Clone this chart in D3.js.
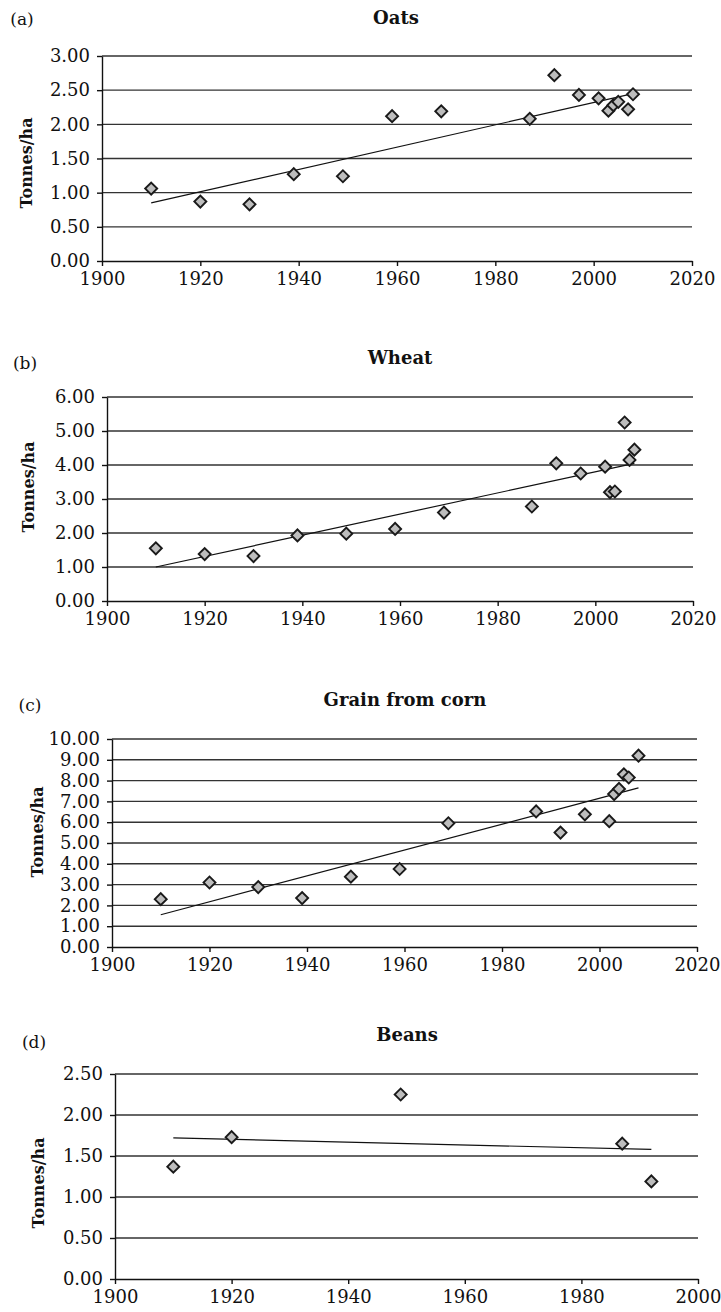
<!DOCTYPE html>
<html>
<head>
<meta charset="utf-8">
<script src="https://cdn.jsdelivr.net/npm/d3@7"></script>
<style>
	body { margin: 0; background: #fff; }
	svg text { font-family: 'DejaVu Serif', serif; fill: #111; }
</style>
</head>
<body>
<script>
// crop yields, tonnes/ha
const oatsYears = [1910, 1920, 1930, 1939, 1949, 1959, 1969, 1987, 1992, 1997, 2001, 2003, 2004, 2005, 2007, 2008];
const oatsYield = [1.06, 0.87, 0.83, 1.27, 1.24, 2.12, 2.19, 2.08, 2.72, 2.43, 2.38, 2.2, 2.28, 2.33, 2.22, 2.44];
const oatsTrend = [[1910, 0.85], [2008, 2.45]];

const wheatYears = [1910, 1920, 1930, 1939, 1949, 1959, 1969, 1987, 1992, 1997, 2002, 2003, 2004, 2006, 2007, 2008];
const wheatYield = [1.55, 1.38, 1.32, 1.93, 1.98, 2.12, 2.6, 2.78, 4.05, 3.75, 3.95, 3.2, 3.22, 5.25, 4.15, 4.45];
const wheatTrend = [[1910, 1.0], [2008, 4.05]];

const cornYears = [1910, 1920, 1930, 1939, 1949, 1959, 1969, 1987, 1992, 1997, 2002, 2003, 2004, 2005, 2006, 2008];
const cornYield = [2.3, 3.1, 2.88, 2.35, 3.38, 3.75, 5.95, 6.52, 5.5, 6.38, 6.05, 7.35, 7.6, 8.3, 8.15, 9.2];
const cornTrend = [[1910, 1.55], [2008, 7.65]];

const beansYears = [1910, 1920, 1949, 1987, 1992];
const beansYield = [1.37, 1.73, 2.25, 1.65, 1.19];
const beansTrend = [[1910, 1.72], [1992, 1.58]];

const titles = ['Oats', 'Wheat', 'Grain from corn', 'Beans'];
const letters = ['(a)', '(b)', '(c)', '(d)'];
const yTicksOats = [0, 0.5, 1, 1.5, 2, 2.5, 3];
const yTicksWheat = [0, 1, 2, 3, 4, 5, 6];
const yTicksCorn = [0, 1, 2, 3, 4, 5, 6, 7, 8, 9, 10];
const yTicksBeans = [0, 0.5, 1, 1.5, 2, 2.5];
const xTicksLong = [1900, 1920, 1940, 1960, 1980, 2000, 2020];
const xTicksShort = [1900, 1920, 1940, 1960, 1980, 2000];

// where each panel sits on the page
const layout = [
	{ left: 102, right: 692, top: 56, bottom: 261, titleX: 396, titleY: 18, letX: 22, letY: 19, labX: 26, labY: 163 },
	{ left: 107, right: 693, top: 397, bottom: 601, titleX: 400, titleY: 358, letX: 25, letY: 363, labX: 28, labY: 487 },
	{ left: 112, right: 697, top: 739, bottom: 947, titleX: 405, titleY: 700, letX: 30, letY: 705, labX: 37, labY: 832 },
	{ left: 115, right: 698, top: 1074, bottom: 1279, titleX: 407, titleY: 1035, letX: 34, letY: 1042, labX: 38, labY: 1183 },
];

const panels = [
	{ years: oatsYears, values: oatsYield, trend: oatsTrend, yTicks: yTicksOats, xTicks: xTicksLong },
	{ years: wheatYears, values: wheatYield, trend: wheatTrend, yTicks: yTicksWheat, xTicks: xTicksLong },
	{ years: cornYears, values: cornYield, trend: cornTrend, yTicks: yTicksCorn, xTicks: xTicksLong },
	{ years: beansYears, values: beansYield, trend: beansTrend, yTicks: yTicksBeans, xTicks: xTicksShort },
];

const svg = d3.select('body').append('svg').attr('width', 721).attr('height', 1312);

const diamond = d3.symbol().type(d3.symbolSquare).size(72);

panels.forEach((p, i) => {
	const L = layout[i];
	const x = d3.scaleLinear().domain(d3.extent(p.xTicks)).range([L.left, L.right]);
	const y = d3.scaleLinear().domain(d3.extent(p.yTicks)).range([L.bottom, L.top]);
	const g = svg.append('g');

	// horizontal gridlines
	g.selectAll('.grid')
		.data(p.yTicks.slice(1))
		.join('line')
		.attr('x1', L.left)
		.attr('x2', L.right)
		.attr('y1', (d) => y(d))
		.attr('y2', (d) => y(d))
		.attr('stroke', '#333')
		.attr('stroke-width', 1.4);

	// axes
	const ya = g.append('g')
		.attr('transform', `translate(${L.left},0)`)
		.call(d3.axisLeft(y).tickValues(p.yTicks).tickSize(5).tickSizeOuter(0).tickPadding(7).tickFormat(d3.format('.2f')));
	const xa = g.append('g')
		.attr('transform', `translate(0,${L.bottom})`)
		.call(d3.axisBottom(x).tickValues(p.xTicks).tickSize(5).tickSizeOuter(0).tickPadding(6).tickFormat(d3.format('d')));
	[ya, xa].forEach((a) => {
		a.selectAll('path, line').attr('stroke', '#111').attr('stroke-width', 1.4);
		a.selectAll('text').style('font-size', '18px').attr('fill', '#111');
	});

	// trend line
	g.append('path')
		.attr('d', d3.line().x((d) => x(d[0])).y((d) => y(d[1]))(p.trend))
		.attr('fill', 'none')
		.attr('stroke', '#111')
		.attr('stroke-width', 1.2);

	// points
	g.selectAll('.pt')
		.data(p.years.map((yr, k) => [yr, p.values[k]]))
		.join('path')
		.attr('d', diamond)
		.attr('transform', (d) => `translate(${x(d[0])},${y(d[1])}) rotate(45)`)
		.attr('fill', '#bdbdbd')
		.attr('stroke', '#1a1a1a')
		.attr('stroke-width', 1.9);

	// text
	g.append('text')
		.attr('x', L.titleX)
		.attr('y', L.titleY)
		.attr('dy', '0.35em')
		.attr('text-anchor', 'middle')
		.style('font-size', '18px')
		.style('font-weight', 'bold')
		.text(titles[i]);
	g.append('text')
		.attr('x', L.letX)
		.attr('y', L.letY)
		.attr('dy', '0.35em')
		.attr('text-anchor', 'middle')
		.style('font-size', '17px')
		.text(letters[i]);
	g.append('text')
		.attr('transform', `translate(${L.labX},${L.labY}) rotate(-90)`)
		.attr('dy', '0.35em')
		.attr('text-anchor', 'middle')
		.style('font-size', '16px')
		.style('font-weight', 'bold')
		.text('Tonnes/ha');
});
</script>
</body>
</html>
